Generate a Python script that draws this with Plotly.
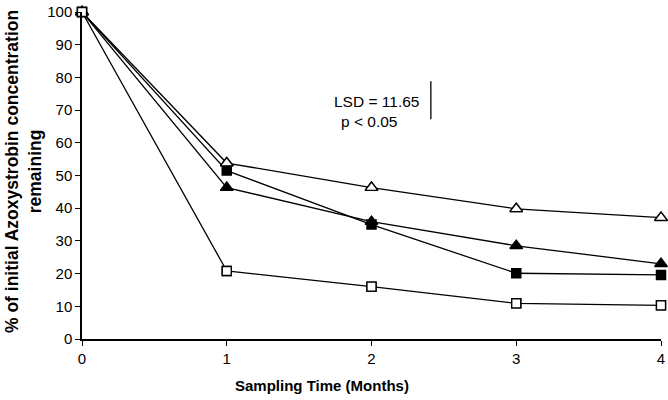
import plotly.graph_objects as go

months = [0, 1, 2, 3, 4]
open_triangle = [100, 53.8, 46.3, 39.8, 37.1]
filled_square = [100, 51.5, 35.0, 20.1, 19.6]
filled_triangle = [100, 46.3, 35.9, 28.5, 23.0]
open_square = [100, 20.8, 16.0, 10.9, 10.3]

x_tick_labels = ["0", "1", "2", "3", "4"]
y_tick_vals = list(range(0, 101, 10))

lsd_value = 11.65
lsd_x = 2.41
lsd_y0 = 67.2

W, H = 668, 400
ML, MR, MT, MB = 82, 7, 12, 61
PW = W - ML - MR
PH = H - MT - MB

font_family = "Liberation Sans, Arial, sans-serif"

series = [
    ("Series A", open_triangle, "triangle-up-open", 11),
    ("Series B", filled_square, "square", 9),
    ("Series C", filled_triangle, "triangle-up", 11),
    ("Series D", open_square, "square-open", 9),
]

fig = go.Figure()
for name, vals, sym, sz in series:
    fig.add_trace(go.Scatter(
        x=months, y=vals, name=name, mode="lines+markers",
        line=dict(color="black", width=1.3),
        marker=dict(symbol=sym, size=sz, color="black",
                    line=dict(color="black", width=1.5)),
        cliponaxis=False, showlegend=False,
    ))
# white fill for open markers drawn on top
for name, vals, sym, sz in series:
    if "open" in sym:
        fig.add_trace(go.Scatter(
            x=months, y=vals, mode="markers",
            marker=dict(symbol=sym.replace("-open", ""), size=sz, color="white",
                        line=dict(color="black", width=1.3)),
            cliponaxis=False, showlegend=False, hoverinfo="skip",
        ))

fig.add_shape(type="line", x0=lsd_x, x1=lsd_x, y0=lsd_y0, y1=lsd_y0 + lsd_value,
              xref="x", yref="y", line=dict(color="black", width=1.3))

# convert screen pixel positions to paper coords
def px_to_paper_x(px):
    return (px - ML) / PW

def px_to_paper_y(py):
    return (H - MB - py) / PH

def add_text(text, px, py, size=15, angle=0):
    fig.add_annotation(text=text, x=px_to_paper_x(px), y=px_to_paper_y(py),
                       xref="paper", yref="paper", showarrow=False,
                       xanchor="center", yanchor="middle", textangle=angle,
                       font=dict(size=size, color="black", family=font_family))

add_text("LSD = 11.65", 376, 101, size=15.5)
add_text("p < 0.05", 369, 121, size=15.5)
add_text("<b>Sampling Time (Months)</b>", 322, 385)
add_text("<b>% of initial Azoxystrobin concentration<br>remaining</b>", 23, 172, size=17.5, angle=-90)

fig.update_layout(
    width=W, height=H,
    margin=dict(l=ML, r=MR, t=MT, b=MB, autoexpand=False),
    paper_bgcolor="white", plot_bgcolor="white",
    font=dict(family=font_family, size=15, color="black"),
    xaxis=dict(range=[0, 4], tickvals=months, ticktext=x_tick_labels, automargin=False,
               showgrid=False, zeroline=False, showline=True, linecolor="black", linewidth=1.5,
               ticks="outside", ticklen=5, tickcolor="black", tickwidth=1.3,
               ticklabeloverflow="allow", tickfont=dict(size=15)),
    yaxis=dict(range=[0, 100], tickvals=y_tick_vals, automargin=False,
               showgrid=False, zeroline=False, showline=True, linecolor="black", linewidth=1.5,
               ticks="outside", ticklen=5, tickcolor="black", tickwidth=1.3,
               ticklabeloverflow="allow", tickfont=dict(size=15)),
)

fig.write_html("out.html", config={"displayModeBar": False},
               post_script="document.body.style.margin='0';document.body.style.overflow='hidden';")
